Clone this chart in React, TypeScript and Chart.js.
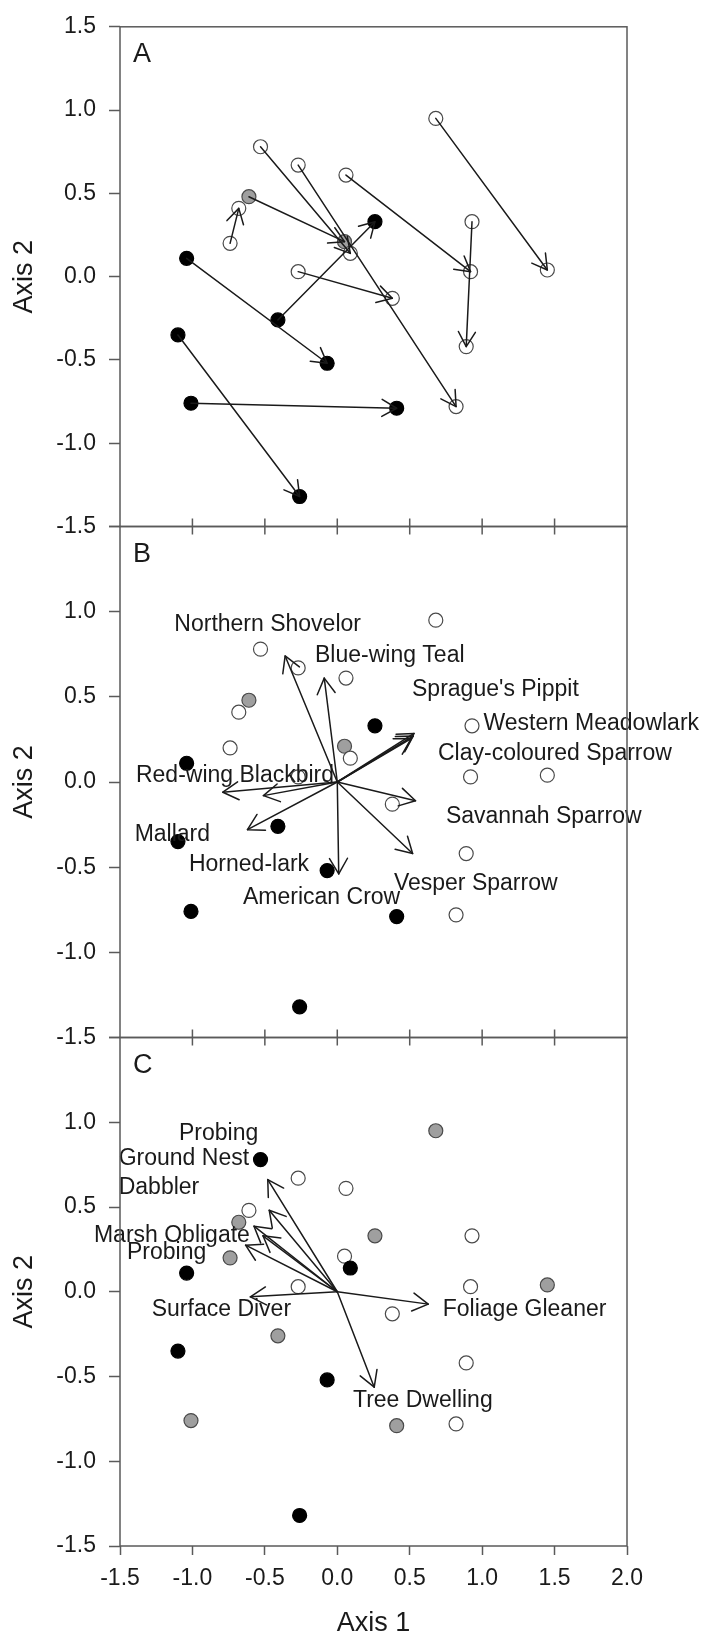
import { useEffect, useRef } from "react";
import { Chart, registerables } from "chart.js";

Chart.register(...registerables);

const FONT = "'Liberation Sans', Arial, Helvetica, sans-serif";
Chart.defaults.font.family = FONT;

// Site scores on the two ordination axes (24 sites)
const siteAxis1 = [0.68, -0.53, -0.27, 0.06, -0.61, -0.68, -0.74, 0.93, 0.05, 0.09, 0.92, 1.45,
  -0.27, 0.38, 0.89, 0.82, -1.04, 0.26, -0.41, -1.1, -0.07, -1.01, 0.41, -0.26];
const siteAxis2 = [0.95, 0.78, 0.67, 0.61, 0.48, 0.41, 0.2, 0.33, 0.21, 0.14, 0.03, 0.04,
  0.03, -0.13, -0.42, -0.78, 0.11, 0.33, -0.26, -0.35, -0.52, -0.76, -0.79, -1.32];

// Marker class per site: 0 = open, 1 = grey, 2 = black
const siteClassAB = [0, 0, 0, 0, 1, 0, 0, 0, 1, 0, 0, 0, 0, 0, 0, 0, 2, 2, 2, 2, 2, 2, 2, 2];
const siteClassC = [1, 2, 0, 0, 0, 1, 1, 0, 0, 2, 0, 1, 0, 0, 0, 0, 2, 1, 1, 2, 2, 1, 1, 2];

// Site shifts between surveys (start site -> end site)
const moveFrom = [0, 3, 7, 6, 12, 16, 19, 21, 18, 4, 1, 2];
const moveTo = [11, 10, 14, 5, 13, 20, 23, 22, 17, 8, 9, 15];

// Species vectors
const speciesNames = ["Northern Shovelor", "Blue-wing Teal", "Sprague's Pippit", "Western Meadowlark",
  "Clay-coloured Sparrow", "Red-wing Blackbird", "Savannah Sparrow", "Mallard", "Horned-lark",
  "American Crow", "Vesper Sparrow"];
const speciesAxis1 = [-0.36, -0.09, 0.53, 0.525, 0.51, -0.79, 0.54, -0.51, -0.62, 0.01, 0.52];
const speciesAxis2 = [0.74, 0.61, 0.285, 0.27, 0.255, -0.06, -0.11, -0.08, -0.28, -0.54, -0.42];
const speciesLabelAxis1 = [-1.125, -0.154, 0.516, 1.009, 0.695, -1.39, 0.75, -1.399, -1.024, -0.651, 0.391];
const speciesLabelAxis2 = [0.925, 0.739, 0.545, 0.345, 0.165, 0.038, -0.205, -0.31, -0.483, -0.68, -0.599];

// Trait vectors
const traitNames = ["Probing", "Ground Nest", "Dabbler", "Marsh Obligate", "Probing",
  "Surface Diver", "Foliage Gleaner", "Tree Dwelling"];
const traitAxis1 = [-0.48, -0.47, -0.575, -0.513, -0.633, -0.6, 0.628, 0.255];
const traitAxis2 = [0.662, 0.481, 0.387, 0.33, 0.275, -0.03, -0.073, -0.563];
const traitLabelAxis1 = [-1.093, -1.509, -1.509, -1.68, -1.452, -1.281, 0.728, 0.108];
const traitLabelAxis2 = [0.935, 0.785, 0.615, 0.33, 0.228, -0.103, -0.108, -0.64];

const axis1Ticks = [-1.5, -1.0, -0.5, 0.0, 0.5, 1.0, 1.5, 2.0];
const panelLetters = ["A", "B", "C"];

// Page layout of the three stacked panels
const PAGE_W = 707;
const PAGE_H = 1646;
const PLOT_LEFT = 120;
const PLOT_RIGHT = 627;
const PANEL_TOP = [16.5, 526.5, 1037.5];
const PANEL_BOTTOM = [526.5, 1037.5, 1546];

const FILL = ["#ffffff", "#9f9f9f", "#000000"];
const EDGE = ["#4a4a4a", "#4a4a4a", "#000000"];
const INK = "#1a1a1a";
const FRAME = "#5a5a5a";

function drawArrow(ctx: CanvasRenderingContext2D, x0: number, y0: number, x1: number, y1: number, head: number) {
  ctx.beginPath();
  ctx.moveTo(x0, y0);
  ctx.lineTo(x1, y1);
  ctx.stroke();
  const a = Math.atan2(y1 - y0, x1 - x0);
  const s = Math.PI / 6;
  ctx.beginPath();
  ctx.moveTo(x1 - head * Math.cos(a - s), y1 - head * Math.sin(a - s));
  ctx.lineTo(x1, y1);
  ctx.lineTo(x1 - head * Math.cos(a + s), y1 - head * Math.sin(a + s));
  ctx.stroke();
}

function panelOverlay(panel: number) {
  return {
    id: "panelOverlay" + panel,
    afterDatasetsDraw(chart: any) {
      const { ctx, scales } = chart;
      const xs = scales.x;
      const ys = scales.y;
      const px = (v: number) => xs.getPixelForValue(v);
      const py = (v: number) => ys.getPixelForValue(v);
      ctx.save();
      ctx.strokeStyle = INK;
      ctx.lineWidth = 1.5;
      ctx.lineCap = "round";
      ctx.lineJoin = "round";
      if (panel === 0) {
        moveFrom.forEach((from, i) => {
          const to = moveTo[i];
          drawArrow(ctx, px(siteAxis1[from]), py(siteAxis2[from]), px(siteAxis1[to]), py(siteAxis2[to]), 17);
        });
      } else {
        const vx = panel === 1 ? speciesAxis1 : traitAxis1;
        const vy = panel === 1 ? speciesAxis2 : traitAxis2;
        const names = panel === 1 ? speciesNames : traitNames;
        const lx = panel === 1 ? speciesLabelAxis1 : traitLabelAxis1;
        const ly = panel === 1 ? speciesLabelAxis2 : traitLabelAxis2;
        vx.forEach((v, i) => drawArrow(ctx, px(0), py(0), px(v), py(vy[i]), 18));
        ctx.fillStyle = INK;
        ctx.font = `23px ${FONT}`;
        ctx.textAlign = "left";
        ctx.textBaseline = "middle";
        names.forEach((n, i) => ctx.fillText(n, px(lx[i]), py(ly[i])));
      }
      ctx.restore();
    },
    afterDraw(chart: any) {
      const { ctx, chartArea, scales } = chart;
      const { left, right, top, bottom } = chartArea;
      ctx.save();
      ctx.strokeStyle = FRAME;
      ctx.lineWidth = 1.5;
      ctx.strokeRect(left, top, right - left, bottom - top);
      // inner tick marks along shared panel edges
      const inner = axis1Ticks.slice(1, -1);
      ctx.beginPath();
      inner.forEach((t) => {
        const x = scales.x.getPixelForValue(t);
        if (panel > 0) {
          ctx.moveTo(x, top);
          ctx.lineTo(x, top + 8);
        }
        if (panel < 2) {
          ctx.moveTo(x, bottom);
          ctx.lineTo(x, bottom - 8);
        }
      });
      ctx.stroke();
      ctx.fillStyle = INK;
      ctx.font = `27px ${FONT}`;
      ctx.textAlign = "left";
      ctx.textBaseline = "middle";
      ctx.fillText(panelLetters[panel], left + 13, top + 28);
      ctx.restore();
    },
  };
}

function buildConfig(panel: number): any {
  const cls = panel === 2 ? siteClassC : siteClassAB;
  const isLast = panel === 2;
  const points = siteAxis1.map((x, i) => ({ x, y: siteAxis2[i] }));
  return {
    type: "scatter",
    data: {
      datasets: [
        {
          data: points,
          pointRadius: 7,
          pointHoverRadius: 7,
          pointBackgroundColor: cls.map((c) => FILL[c]),
          pointBorderColor: cls.map((c) => EDGE[c]),
          pointBorderWidth: 1.2,
        },
      ],
    },
    options: {
      responsive: false,
      animation: false,
      events: [],
      layout: {
        padding: {
          left: 0,
          right: PAGE_W - PLOT_RIGHT,
          top: PANEL_TOP[panel],
          bottom: isLast ? 0 : PAGE_H - PANEL_BOTTOM[panel],
        },
      },
      plugins: { legend: { display: false }, tooltip: { enabled: false } },
      scales: {
        x: {
          type: "linear",
          min: -1.5,
          max: 2.0,
          display: isLast,
          afterFit: (s: any) => {
            s.height = isLast ? PAGE_H - PANEL_BOTTOM[2] : 0;
          },
          ticks: {
            stepSize: 0.5,
            autoSkip: false,
            maxRotation: 0,
            padding: 10,
            color: INK,
            font: { size: 23, family: FONT },
            callback: (v: any) => Number(v).toFixed(1),
          },
          grid: { drawOnChartArea: false, tickLength: 9, tickColor: FRAME, tickWidth: 1.5 },
          border: { display: false },
          title: {
            display: true,
            text: "Axis 1",
            color: INK,
            font: { size: 27, family: FONT },
            padding: { top: 0, bottom: 6 },
          },
        },
        y: {
          type: "linear",
          min: -1.5,
          max: 1.5,
          afterFit: (s: any) => {
            s.width = PLOT_LEFT;
          },
          ticks: {
            stepSize: 0.5,
            padding: 13,
            color: INK,
            font: { size: 23, family: FONT },
            callback: (v: any) => (panel > 0 && Number(v) > 1.49 ? "" : Number(v).toFixed(1)),
          },
          grid: { drawOnChartArea: false, tickLength: 11, tickColor: FRAME, tickWidth: 1.5 },
          border: { display: false },
          title: {
            display: true,
            text: "Axis 2",
            color: INK,
            font: { size: 27, family: FONT },
            padding: { top: 8, bottom: 0 },
          },
        },
      },
    },
    plugins: [panelOverlay(panel)],
  };
}

export default function App() {
  const refA = useRef<HTMLCanvasElement>(null);
  const refB = useRef<HTMLCanvasElement>(null);
  const refC = useRef<HTMLCanvasElement>(null);

  useEffect(() => {
    const canvases = [refA.current, refB.current, refC.current];
    const charts = canvases.map((c, i) => new Chart(c as HTMLCanvasElement, buildConfig(i)));
    return () => charts.forEach((ch) => ch.destroy());
  }, []);

  const canvasStyle: any = { position: "absolute", left: 0, top: 0 };
  return (
    <div style={{ position: "absolute", left: 0, top: 0, width: PAGE_W, height: PAGE_H, background: "#fff", overflow: "hidden" }}>
      <canvas ref={refA} width={PAGE_W} height={PAGE_H} style={canvasStyle} />
      <canvas ref={refB} width={PAGE_W} height={PAGE_H} style={canvasStyle} />
      <canvas ref={refC} width={PAGE_W} height={PAGE_H} style={canvasStyle} />
    </div>
  );
}
